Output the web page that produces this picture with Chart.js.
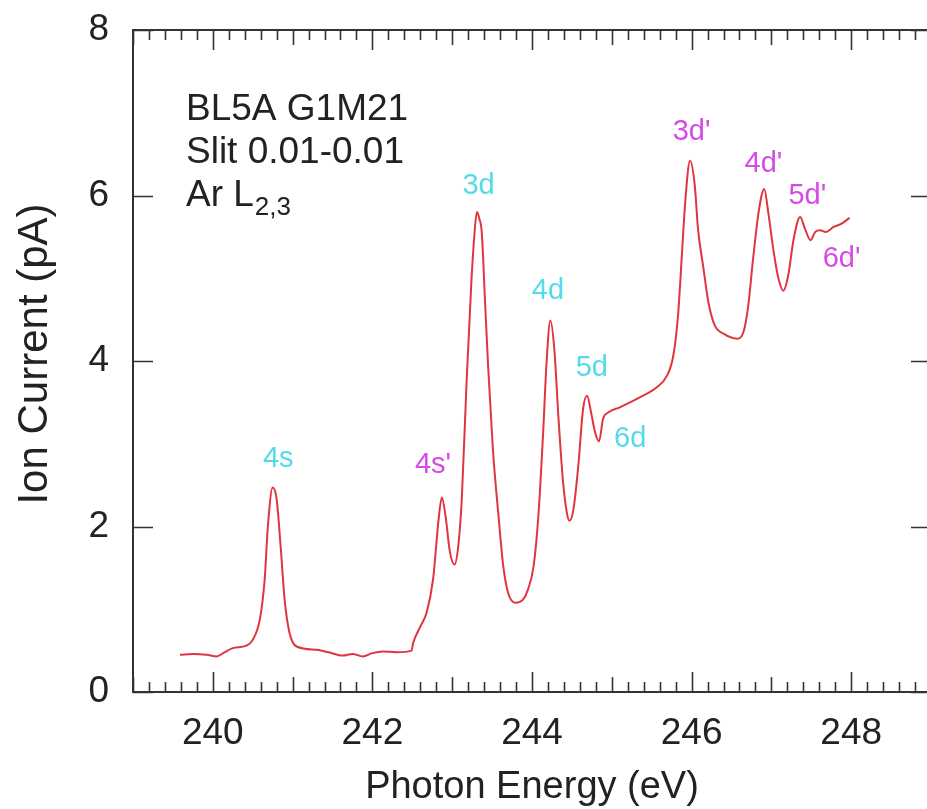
<!DOCTYPE html>
<html>
<head>
<meta charset="utf-8">
<script src="https://cdn.jsdelivr.net/npm/chart.js@4/dist/chart.umd.min.js"></script>
<style>
  html, body { margin: 0; padding: 0; background: #fff; overflow: hidden; }
  canvas { display: block; }
</style>
</head>
<body>
<canvas id="chart" width="940" height="809"></canvas>
<script>
//-----------------------------------------------------------------------------
// Data
//-----------------------------------------------------------------------------

var energy = [
  239.59, 239.75, 239.92, 240.05, 240.13, 240.25, 240.42, 240.50, 240.59, 240.65,
  240.69, 240.75, 240.80, 240.85, 240.90, 240.96, 241.05, 241.30, 241.45, 241.63,
  241.75, 241.88, 242.00, 242.13, 242.30, 242.49, 242.51, 242.60, 242.68, 242.76,
  242.83, 242.87, 242.92, 242.97, 243.03, 243.08, 243.12, 243.18, 243.24, 243.28,
  243.31, 243.34, 243.37, 243.41, 243.45, 243.51, 243.58, 243.64, 243.70, 243.79,
  243.89, 243.95, 244.02, 244.08, 244.14, 244.18, 244.23, 244.28, 244.33, 244.39,
  244.44, 244.47, 244.52, 244.58, 244.64, 244.69, 244.74, 244.79, 244.84, 244.89,
  244.96, 245.10, 245.35, 245.56, 245.69, 245.77, 245.83, 245.88, 245.92, 245.98,
  246.04, 246.08, 246.15, 246.21, 246.29, 246.40, 246.57, 246.65, 246.71, 246.77,
  246.84, 246.91, 246.96, 247.03, 247.09, 247.15, 247.21, 247.28, 247.36, 247.42,
  247.49, 247.55, 247.61, 247.68, 247.78, 247.88, 247.98
];

var current = [
  0.45, 0.46, 0.45, 0.43, 0.47, 0.53, 0.56, 0.63, 0.88, 1.36,
  2.00, 2.47, 2.33, 1.76, 1.12, 0.72, 0.55, 0.51, 0.48, 0.44,
  0.46, 0.43, 0.47, 0.49, 0.48, 0.50, 0.59, 0.79, 0.96, 1.36,
  2.09, 2.35, 2.10, 1.70, 1.54, 1.80, 2.33, 3.74, 4.95, 5.55,
  5.80, 5.72, 5.56, 4.75, 3.94, 2.93, 2.13, 1.52, 1.20, 1.08,
  1.12, 1.24, 1.52, 2.13, 3.14, 3.94, 4.49, 4.14, 3.34, 2.53,
  2.15, 2.07, 2.21, 2.73, 3.42, 3.58, 3.38, 3.14, 3.03, 3.30,
  3.38, 3.44, 3.56, 3.68, 3.82, 4.06, 4.55, 5.31, 5.92, 6.42,
  6.12, 5.60, 5.11, 4.71, 4.43, 4.33, 4.27, 4.35, 4.67, 5.23,
  5.80, 6.08, 5.80, 5.31, 4.99, 4.85, 5.03, 5.48, 5.74, 5.60,
  5.46, 5.56, 5.58, 5.56, 5.62, 5.66, 5.73
];

// peak labels: text, anchor (eV, pA), series (L3 = cyan, L2 = magenta)
var peakNames  = ['4s', '3d', '4d', '5d', '6d', "4s'", "3d'", "4d'", "5d'", "6d'"];
var peakX      = [240.82, 243.33, 244.20, 244.75, 245.23, 242.76, 246.00, 246.90, 247.45, 247.88];
var peakY      = [2.81, 6.12, 4.85, 3.91, 3.06, 2.74, 6.77, 6.38, 6.00, 5.23];
var peakSeries = ['L3', 'L3', 'L3', 'L3', 'L3', 'L2', 'L2', 'L2', 'L2', 'L2'];

var xTickLabels = [240, 242, 244, 246, 248];
var yTickLabels = [0, 2, 4, 6, 8];
var infoLines = ['BL5A G1M21', 'Slit 0.01-0.01', 'Ar L'];
var infoSub = '2,3';

var xTitle = 'Photon Energy (eV)';
var yTitle = 'Ion Current (pA)';

//-----------------------------------------------------------------------------
// Styles
//-----------------------------------------------------------------------------

var FONT = "'Liberation Sans', Arial, Helvetica, sans-serif";
var AXIS = '#333333';
var seriesColor = { L3: '#52dbe8', L2: '#d64ae6' };

//-----------------------------------------------------------------------------
// Frame, inward ticks and all the text
//-----------------------------------------------------------------------------

var framePlugin = {
  id: 'frame',
  afterDraw: function(chart) {
    var ctx = chart.ctx,
        a = chart.chartArea,
        xs = chart.scales.x,
        ys = chart.scales.y;

    ctx.save();
    ctx.strokeStyle = AXIS;
    ctx.lineWidth = 2;
    ctx.strokeRect(a.left, a.top, a.right - a.left, a.bottom - a.top);

    // x ticks every 0.2 eV, longer at whole eV, longest at even eV
    ctx.lineWidth = 1.6;
    ctx.beginPath();
    for (var i = 0; i <= 50; i++) {
      var v = xs.min + i * 0.2,
          px = Math.round(xs.getPixelForValue(v)) + 0.5,
          len = (i % 10 === 5) ? 20 : (i % 10 === 0 ? 15 : 10);
      ctx.moveTo(px, a.bottom);
      ctx.lineTo(px, a.bottom - len);
      ctx.moveTo(px, a.top);
      ctx.lineTo(px, a.top + len);
    }
    // y ticks, both sides
    yTickLabels.forEach(function(v) {
      var py = Math.round(ys.getPixelForValue(v)) + 0.5;
      ctx.moveTo(a.left, py);
      ctx.lineTo(a.left + 20, py);
      ctx.moveTo(a.right, py);
      ctx.lineTo(a.right - 20, py);
    });
    ctx.stroke();

    // tick labels
    ctx.fillStyle = '#222';
    ctx.font = '37px ' + FONT;
    ctx.textAlign = 'center';
    ctx.textBaseline = 'middle';
    xTickLabels.forEach(function(v) {
      ctx.fillText(String(v), xs.getPixelForValue(v), a.bottom + 42);
    });
    ctx.textAlign = 'right';
    yTickLabels.forEach(function(v) {
      ctx.fillText(String(v), a.left - 24, ys.getPixelForValue(v));
    });

    // axis titles
    ctx.textAlign = 'center';
    ctx.textBaseline = 'alphabetic';
    ctx.font = '38px ' + FONT;
    ctx.fillText(xTitle, (xs.getPixelForValue(239) + xs.getPixelForValue(249)) / 2, 798);
    ctx.save();
    ctx.translate(47, 354);
    ctx.rotate(-Math.PI / 2);
    ctx.font = '42px ' + FONT;
    ctx.fillText(yTitle, 0, 0);
    ctx.restore();

    // info block
    ctx.textAlign = 'left';
    ctx.font = '37px ' + FONT;
    var y0 = 120;
    infoLines.forEach(function(s, k) {
      ctx.fillText(s, 186, y0 + k * 43);
    });
    var w = ctx.measureText(infoLines[2]).width;
    ctx.font = '26px ' + FONT;
    ctx.fillText(infoSub, 186 + w + 1, y0 + 2 * 43 + 9);

    // peak labels
    ctx.font = '29px ' + FONT;
    ctx.textAlign = 'center';
    ctx.textBaseline = 'middle';
    peakNames.forEach(function(s, k) {
      ctx.fillStyle = seriesColor[peakSeries[k]];
      ctx.fillText(s, xs.getPixelForValue(peakX[k]), ys.getPixelForValue(peakY[k]));
    });
    ctx.restore();
  }
};

//-----------------------------------------------------------------------------
// Chart
//-----------------------------------------------------------------------------

var points = energy.map(function(e, i) { return { x: e, y: current[i] }; });

new Chart(document.getElementById('chart'), {
  type: 'line',
  data: {
    datasets: [{
      data: points,
      borderColor: '#e0353f',
      borderWidth: 2,
      pointRadius: 0,
      cubicInterpolationMode: 'monotone',
      fill: false
    }]
  },
  options: {
    responsive: false,
    animation: false,
    devicePixelRatio: 1,
    layout: { padding: { left: 133, right: 9, top: 30, bottom: 117 } },
    plugins: { legend: { display: false }, tooltip: { enabled: false } },
    scales: {
      x: { type: 'linear', min: 239, max: 249, display: false },
      y: { type: 'linear', min: 0, max: 8, display: false }
    }
  },
  plugins: [framePlugin]
});
</script>
</body>
</html>
